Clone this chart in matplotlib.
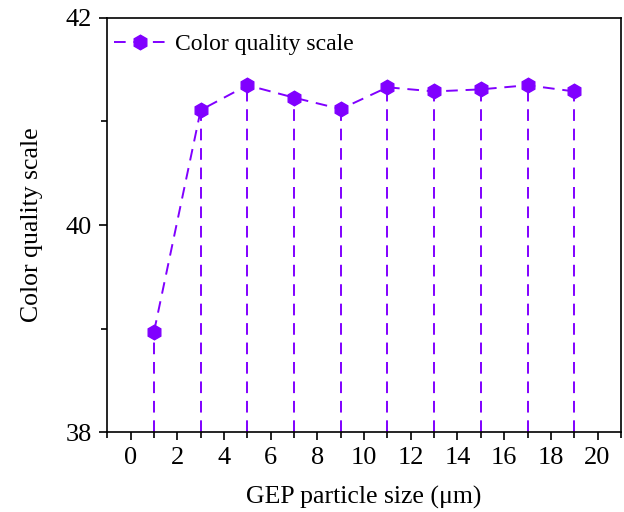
import matplotlib
matplotlib.use("Agg")
import matplotlib.pyplot as plt
from matplotlib.ticker import MultipleLocator

x = [1, 3, 5, 7, 9, 11, 13, 15, 17, 19]
y = [38.97, 41.11, 41.35, 41.23, 41.12, 41.33, 41.29, 41.31, 41.35, 41.29]

plt.rcParams['font.family'] = ['Liberation Serif', 'DejaVu Serif']
color = '#8000FF'

fig = plt.figure(figsize=(6.24, 5.12), dpi=100)
ax = fig.add_axes([0.172, 0.156, 0.823, 0.809])

ax.vlines(x, 38, y, colors=color, linestyles=(0, (6, 4)), linewidth=1.4)
ax.plot(x, y, linestyle=(0, (6, 4)), color=color, linewidth=1.4,
        marker='h', markersize=10.5, markerfacecolor=color, markeredgecolor=color,
        label='Color quality scale')

ax.set_xlim(-1, 21)
ax.set_ylim(38, 42)
ax.xaxis.set_major_locator(MultipleLocator(2))
ax.xaxis.set_minor_locator(MultipleLocator(1))
ax.yaxis.set_major_locator(MultipleLocator(2))
ax.yaxis.set_minor_locator(MultipleLocator(1))
ax.tick_params(which='major', direction='out', length=6, width=1.2, labelsize=19, pad=5)
ax.tick_params(which='minor', direction='out', length=4, width=1.2)
for s in ax.spines.values():
    s.set_linewidth(1.2)

ax.set_xlabel('GEP particle size (μm)', fontsize=18.5, labelpad=12)
ax.set_ylabel('Color quality scale', fontsize=18.5, labelpad=16)

ax.legend(loc='upper left', bbox_to_anchor=(-0.017, 1.0), frameon=False,
          fontsize=17, handlelength=2.2, borderaxespad=0.1, borderpad=0.55,
          handletextpad=0.4)

fig.savefig('out.png', dpi=100)
